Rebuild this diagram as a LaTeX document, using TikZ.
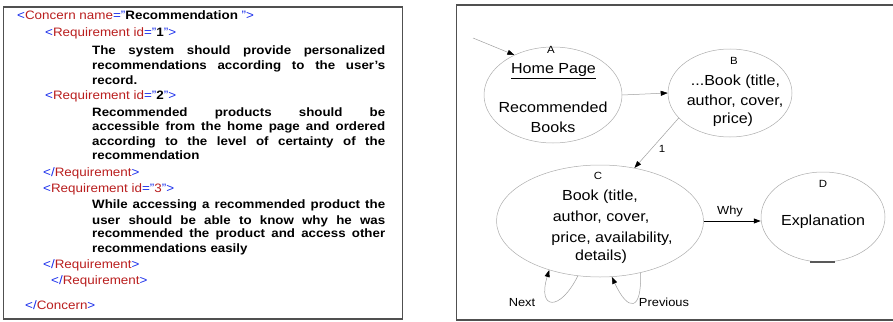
\documentclass[tikz,border=0pt]{standalone}
\usepackage{fontspec}
\setmainfont{Liberation Sans}[FakeStretch=1.1]
\usetikzlibrary{shapes.geometric,arrows.meta}
\definecolor{tagblue}{RGB}{25,45,235}
\definecolor{tagred}{RGB}{185,30,30}
\definecolor{framegray}{RGB}{80,80,80}
\newcommand{\xb}[1]{\textcolor{tagblue}{#1}}
\newcommand{\xr}[1]{\textcolor{tagred}{#1}}
\newcommand{\jl}[1]{\makebox[293pt][s]{#1}}
\begin{document}
\begin{tikzpicture}[x=1pt,y=-1pt,
  tag/.style={anchor=base west, inner sep=0, font=\fontsize{12.2}{14}\selectfont},
  body/.style={anchor=base west, inner sep=0, font=\fontsize{12.1}{14}\selectfont\bfseries},
  oval/.style={ellipse, draw=gray!65, line width=0.5pt, inner sep=0},
  big/.style={anchor=base, inner sep=0, font=\fontsize{14.6}{17}\selectfont},
  lbl/.style={anchor=base, inner sep=0, font=\fontsize{11.7}{13}\selectfont},
  ltr/.style={anchor=base, inner sep=0, font=\fontsize{10.4}{12}\selectfont},
  conn/.style={draw=gray!75, line width=0.5pt, -{Triangle[length=7pt,width=5pt,color=black]}},
  framebox/.style={draw=framegray, line width=1.5pt}]
\useasboundingbox (0,0) rectangle (893,321);

% frames
\draw[framebox] (3.5,7) rectangle (402.5,319);
\draw[framebox] (893,5) -- (456.5,5) -- (456.5,320) -- (893,320);

% left XML text
\node[tag] (l1) at (17,20) {\xb{<}\xr{Concern name}\xb{="}\textbf{Recommendation }\xb{">}};
\node[tag] (l2) at (45,37) {\xb{<}\xr{Requirement id}\xb{="}\textbf{1}\xb{">}};
\node[body] (l3) at (92,55) {\jl{The system should provide personalized}};
\node[body] (l4) at (92,69) {\jl{recommendations according to the user's}};
\node[body] (l5) at (92,84) {record.};
\node[tag] (l6) at (45,99) {\xb{<}\xr{Requirement id}\xb{="}\textbf{2}\xb{">}};
\node[body] (l7) at (92,116) {\jl{Recommended products should be}};
\node[body] (l8) at (92,130) {\jl{accessible from the home page and ordered}};
\node[body] (l9) at (92,145) {\jl{according to the level of certainty of the}};
\node[body] (l10) at (92,159) {recommendation};
\node[tag] (l11) at (43,176) {\xb{</}\xr{Requirement}\xb{>}};
\node[tag] (l12) at (43,192) {\xb{<}\xr{Requirement id}\xb{="}\xr{3}\xb{">}};
\node[body] (l13) at (92,208) {\jl{While accessing a recommended product the}};
\node[body] (l14) at (92,224) {\jl{user should be able to know why he was}};
\node[body] (l15) at (92,237) {\jl{recommended the product and access other}};
\node[body] (l16) at (92,252) {recommendations easily};
\node[tag] (l17) at (43,268) {\xb{</}\xr{Requirement}\xb{>}};
\node[tag] (l18) at (51,284) {\xb{</}\xr{Requirement}\xb{>}};
\node[tag] (l19) at (25,309) {\xb{</}\xr{Concern}\xb{>}};

% ellipses
\node[oval, minimum width=138pt, minimum height=96pt] (A) at (553,95) {};
\node[oval, minimum width=124pt, minimum height=88pt] (B) at (730,93) {};
\node[oval, minimum width=207pt, minimum height=112pt] (C) at (600,221) {};
\node[oval, minimum width=124pt, minimum height=90pt] (D) at (823,217) {};

% ellipse texts
\node[ltr] (la) at (551,54) {A};
\node[big] (a1) at (553.5,73.5) {\underline{Home Page}};
\node[big] (a2) at (553,112.5) {Recommended};
\node[big] (a3) at (553,132.5) {Books};

\node[ltr] (lb) at (734,64) {B};
\node[big] (b1) at (735.5,85.5) {...Book (title,};
\node[big] (b2) at (735,105.5) {author, cover,};
\node[big] (b3) at (733,123.5) {price)};

\node[ltr] (lc) at (598,179) {C};
\node[big] (c1) at (600,200.5) {Book (title,};
\node[big] (c2) at (601,221.5) {author, cover,};
\node[big] (c3) at (612,242.5) {price, availability,};
\node[big] (c4) at (601,260.5) {details)};

\node[ltr] (ld) at (823,187) {D};
\node[big] (d1) at (823,225.5) {Explanation};
\draw[line width=1.2pt, draw=gray!70!black] (810,262) -- (835,262);

% connectors
\coordinate (start) at (473,38);
\draw[conn] (start) -- (A.134);
\draw[conn] (A.east) -- (B.west);
\draw[conn] (B.206) -- (C.57);
\draw[conn, draw=black, line width=0.8pt] (C.east) -- (C.east -| D.west);
\draw[conn] (C.248) .. controls (560,312) and (537,310) .. (C.224);
\draw[conn] (C.308) .. controls (642,312) and (628,312) .. (C.282);

% connector labels
\node[ltr] (n1) at (662,152) {1};
\node[lbl] (why) at (730,214.5) {Why};
\node[lbl] (next) at (522,306.5) {Next};
\node[lbl] (prev) at (664,306.5) {Previous};
\end{tikzpicture}
\end{document}
